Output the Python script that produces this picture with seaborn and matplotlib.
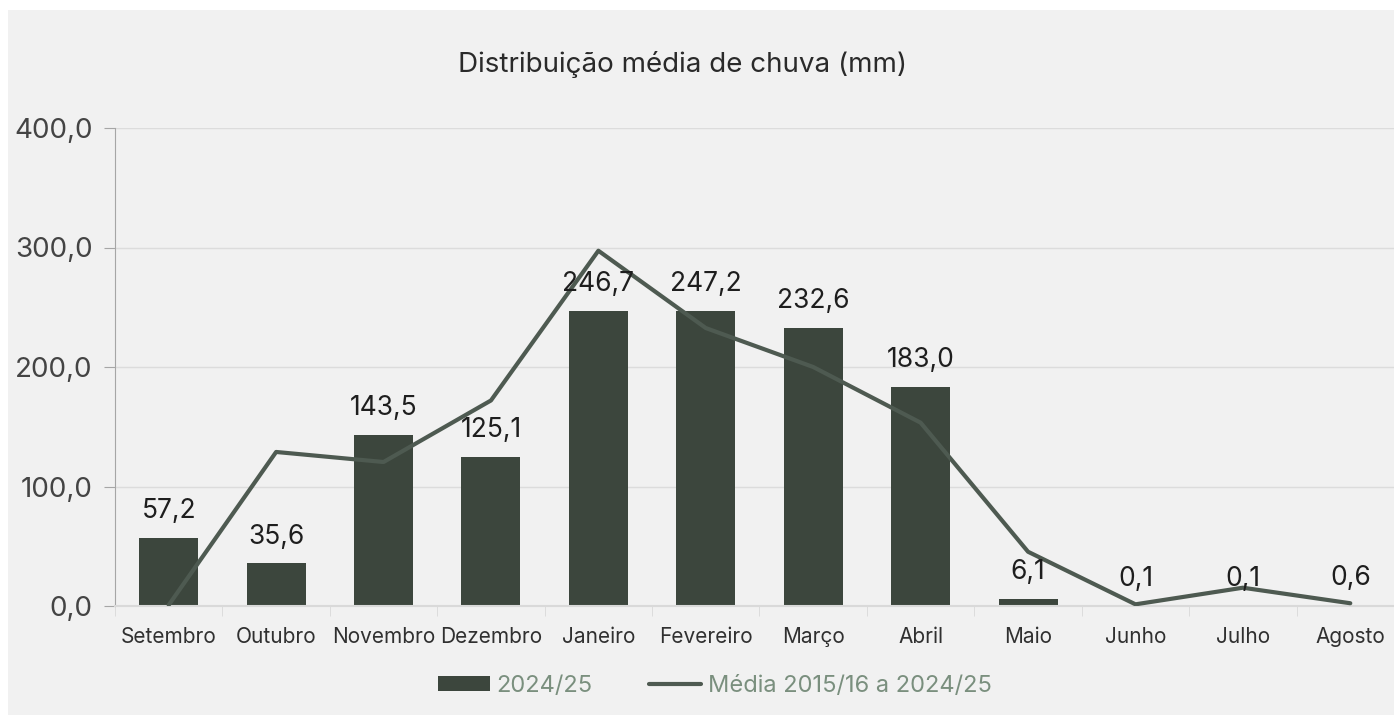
import numpy as np
import pandas as pd
import matplotlib.pyplot as plt
import seaborn as sns
from matplotlib.patches import Rectangle

sns.set_style('white')
plt.rcParams['font.family'] = ['Inter', 'DejaVu Sans']

# dados
meses = ['Setembro', 'Outubro', 'Novembro', 'Dezembro', 'Janeiro', 'Fevereiro',
         'Março', 'Abril', 'Maio', 'Junho', 'Julho', 'Agosto']
chuva_2024 = [57.2, 35.6, 143.5, 125.1, 246.7, 247.2, 232.6, 183.0, 6.1, 0.1, 0.1, 0.6]
media_10anos = [0.8, 128.9, 120.5, 172.0, 297.3, 232.6, 200.0, 153.4, 45.4, 1.4, 15.3, 2.3]
yticks = [0, 100, 200, 300, 400]

df = pd.DataFrame({'mes': meses, 'chuva': chuva_2024, 'media': media_10anos})

cor_barra = '#3c463d'
cor_linha = '#4e5a51'
fundo = '#f1f1f1'

fig = plt.figure(figsize=(13.94, 7.15), dpi=100)
fig.patch.set_facecolor('white')
fig.patches.append(Rectangle((8 / 1394, 0), 1, 705 / 715, transform=fig.transFigure,
                             facecolor=fundo, edgecolor='none', zorder=-10))

ax = fig.add_axes([115 / 1394, 109 / 715, 1289 / 1394, 478 / 715])
ax.set_facecolor('none')

sns.barplot(data=df, x='mes', y='chuva', color=cor_barra, width=0.55,
            saturation=1, linewidth=0, label='2024/25', ax=ax, zorder=2)
sns.lineplot(data=df, x='mes', y='media', color=cor_linha, linewidth=3,
             sort=False, label='Média 2015/16 a 2024/25', ax=ax, zorder=3)

# rótulos das barras
for i, v in enumerate(chuva_2024):
    ax.annotate(f'{v:.1f}'.replace('.', ','), (i, v), xytext=(0, 10),
                textcoords='offset points', ha='center', va='bottom',
                fontsize=19, color='#1e1e1e', zorder=4)

ax.set_ylim(0, 400)
ax.set_xlim(-0.5, 11.5)
ax.set_yticks(yticks)
ax.set_yticklabels([f'{t:.1f}'.replace('.', ',') for t in yticks], fontsize=20, color='#444444')
ax.yaxis.grid(True, color='#dcdcdc', linewidth=1)
ax.set_axisbelow(True)
ax.tick_params(axis='y', length=8, color='#a6a6a6', pad=8, left=True)
ax.tick_params(axis='x', length=0, labelsize=15, labelcolor='#303030', pad=15)
ax.set_xticks(np.arange(-0.5, 12, 1), minor=True)
ax.tick_params(axis='x', which='minor', length=7, color='#d9d9d9', bottom=True)

for s in ['top', 'right']:
    ax.spines[s].set_visible(False)
ax.spines['left'].set_color('#a6a6a6')
ax.spines['bottom'].set_color('#d9d9d9')
ax.spines['bottom'].set_linewidth(1.5)

ax.set_xlabel('')
ax.set_ylabel('')

fig.text(683 / 1394, 1 - 65 / 715, 'Distribuição média de chuva (mm)',
         ha='center', va='center', fontsize=20, color='#2a2a2a')

ax.get_legend().remove()
h, l = ax.get_legend_handles_labels()
# barra primeiro, linha depois
h, l = h[::-1], l[::-1]
leg = fig.legend(h, l, loc='center', bbox_to_anchor=(715 / 1394, 1 - 686 / 715),
                 ncol=2, frameon=False, fontsize=17, handlelength=2.2,
                 handleheight=0.6, columnspacing=2.4, handletextpad=0.3)
for t in leg.get_texts():
    t.set_color('#7a8f7e')

fig.savefig('out.png', dpi=100, facecolor=fig.get_facecolor())
